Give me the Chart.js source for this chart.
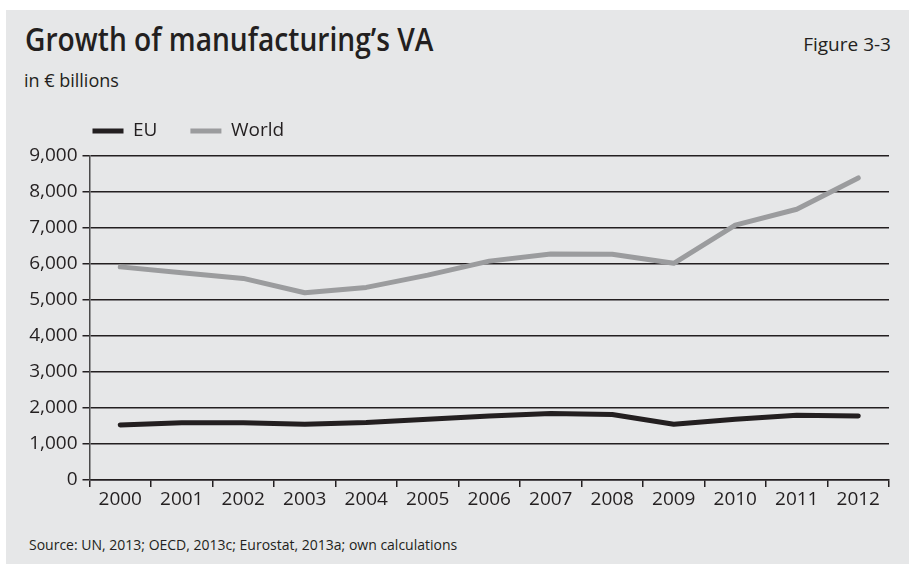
<!DOCTYPE html>
<html>
<head>
<meta charset="utf-8">
<script src="https://cdn.jsdelivr.net/npm/chart.js"></script>
<style>
  html, body { margin: 0; padding: 0; background: #fff; width: 909px; height: 564px; overflow: hidden; }
  #painel { position: absolute; left: 6px; top: 10px; width: 903px; height: 554px; background: #e6e7e8; }
  .txt { position: absolute; font-family: 'Open Sans', sans-serif; color: #231f20; line-height: 1; white-space: nowrap; }
  #titulo { left: 25px; top: 23px; font-size: 32px; font-weight: 600; transform: scaleX(0.88); transform-origin: left top; }
  #figura { right: 18px; top: 35px; font-size: 19px; }
  #unidade { left: 24px; top: 71px; font-size: 18px; }
  #fonte { left: 29px; top: 538px; font-size: 14px; }
  #grafico { position: absolute; left: 0; top: 0; }
</style>
</head>
<body>
<div id="painel"></div>
<div class="txt" id="titulo">Growth of manufacturing’s VA</div>
<div class="txt" id="figura">Figure 3-3</div>
<div class="txt" id="unidade">in € billions</div>
<div class="txt" id="fonte">Source: UN, 2013; OECD, 2013c; Eurostat, 2013a; own calculations</div>
<canvas id="grafico" width="909" height="564"></canvas>
<script>
const anos = ['2000', '2001', '2002', '2003', '2004', '2005', '2006', '2007', '2008', '2009', '2010', '2011', '2012'];
const valoresUE = [1530, 1590, 1590, 1550, 1600, 1690, 1780, 1850, 1820, 1550, 1690, 1800, 1780];
const valoresMundo = [5920, 5760, 5600, 5200, 5350, 5690, 6080, 6280, 6270, 6020, 7080, 7520, 8390];
const ticksY = [0, 1000, 2000, 3000, 4000, 5000, 6000, 7000, 8000, 9000];

const corTexto = '#231f20';
const fonte = { family: "'Open Sans', sans-serif", size: 19 };

const ctx = document.getElementById('grafico').getContext('2d');

// largura do maior rótulo do eixo y (os rótulos ficam alinhados à direita em x = 77.5)
ctx.font = "19px 'Open Sans', sans-serif";
const maiorRotulo = Math.max(...ticksY.map(v => ctx.measureText(v.toLocaleString('en-US')).width));

new Chart(ctx, {
    type: 'line',
    data: {
        labels: anos,
        datasets: [
            {
                label: 'EU',
                data: valoresUE,
                borderColor: '#231f20',
                backgroundColor: '#231f20',
                borderWidth: 5,
                borderCapStyle: 'round',
                borderJoinStyle: 'round',
                pointRadius: 0,
                tension: 0,
                fill: false
            },
            {
                label: 'World',
                data: valoresMundo,
                borderColor: '#9b9c9e',
                backgroundColor: '#9b9c9e',
                borderWidth: 5,
                borderCapStyle: 'round',
                borderJoinStyle: 'round',
                pointRadius: 0,
                tension: 0,
                fill: false
            }
        ]
    },
    options: {
        responsive: false,
        animation: false,
        layout: { padding: { left: 59.5, right: 20, top: 88.5, bottom: 44 } },
        plugins: {
            legend: {
                position: 'top',
                align: 'start',
                labels: {
                    usePointStyle: true,
                    pointStyle: 'line',
                    pointStyleWidth: 31,
                    padding: 33,
                    color: corTexto,
                    font: fonte
                }
            },
            tooltip: { enabled: false }
        },
        scales: {
            x: {
                type: 'category',
                offset: true,
                grid: { offset: true, drawOnChartArea: false, drawTicks: true, tickLength: 7, color: corTexto, lineWidth: 1.5 },
                border: { display: true, color: corTexto, width: 1.5 },
                ticks: { color: corTexto, font: fonte, padding: 1, maxRotation: 0, autoSkip: false },
                afterFit: s => { s.height = 40; }
            },
            x2: {
                type: 'category',
                position: 'top',
                grid: { display: false },
                ticks: { display: false },
                border: { display: false },
                afterFit: s => { s.height = 5.5; }
            },
            y: {
                min: 0,
                max: 9000,
                grid: { color: corTexto, lineWidth: 1.5, tickLength: 7 },
                border: { display: true, color: '#4a4a4a', width: 1.5 },
                ticks: {
                    color: corTexto,
                    font: fonte,
                    mirror: true,
                    crossAlign: 'far',
                    padding: -12 - maiorRotulo
                },
                afterBuildTicks: s => { s.ticks = ticksY.map(v => ({ value: v })); },
                afterFit: s => { s.width = 30; }
            }
        }
    }
});
</script>
</body>
</html>
